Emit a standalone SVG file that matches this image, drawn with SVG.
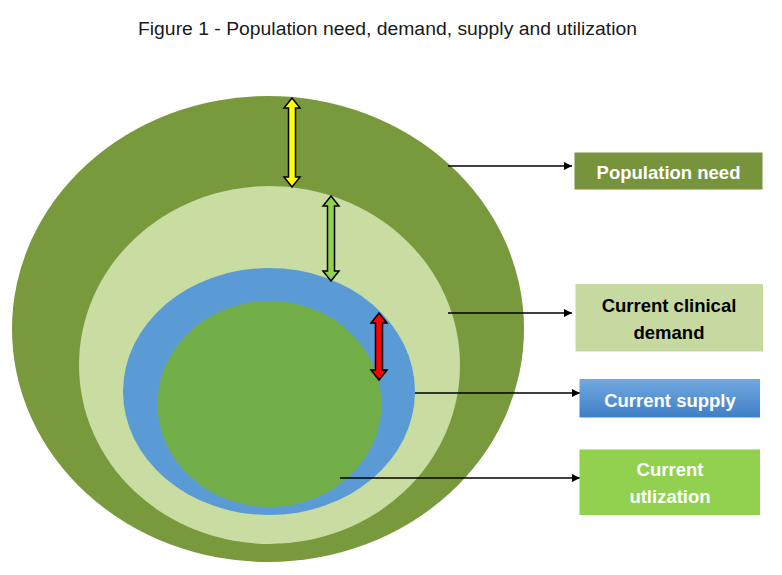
<svg xmlns="http://www.w3.org/2000/svg" width="782" height="575" viewBox="0 0 782 575">
  <defs>
    <style>
      .title { font-family: "Liberation Sans", Arial, sans-serif; font-size: 18px; fill: #1a1a1a; }
      .lbl { font-family: "Liberation Sans", Arial, sans-serif; font-size: 18.5px; font-weight: bold; text-anchor: middle; }
      .w { fill: #ffffff; }
      .k { fill: #000000; }
      .conn { stroke: #000000; stroke-width: 1.3; fill: none; }
      .dbl { stroke: #000000; stroke-width: 1.5; stroke-linejoin: miter; }
    </style>
    <marker id="ah" viewBox="0 0 10 10" refX="10" refY="5" markerWidth="8" markerHeight="8" markerUnits="userSpaceOnUse" orient="auto">
      <path d="M0,0 L10,5 L0,10 z" fill="#000000"/>
    </marker>
    <linearGradient id="blueGrad" x1="0" y1="0" x2="0" y2="1">
      <stop offset="0" stop-color="#72a9e0"/>
      <stop offset="1" stop-color="#3f7ec6"/>
    </linearGradient>
  </defs>
  <rect width="782" height="575" fill="#ffffff"/>
  <text class="title" x="138" y="35" textLength="499" lengthAdjust="spacingAndGlyphs">Figure 1 - Population need, demand, supply and utilization</text>

  <g id="ellipses">
    <ellipse id="need-ellipse" cx="268" cy="329" rx="256" ry="233" fill="#789a3d"/>
    <ellipse id="demand-ellipse" cx="269.5" cy="365" rx="190.5" ry="179" fill="#c9dca1"/>
    <ellipse id="supply-ellipse" cx="269" cy="391.5" rx="146" ry="123.5" fill="#5b9bd5"/>
    <ellipse id="utilization-ellipse" cx="269.5" cy="404" rx="112" ry="103" fill="#72ae48"/>
  </g>

  <g id="gap-arrows">
    <polygon class="dbl" fill="#ffff00" points="292,98 300,108 295.5,108 295.5,177 300,177 292,187 284,177 288.5,177 288.5,108 284,108"/>
    <polygon class="dbl" fill="#92d050" points="331,196 339,206 334.5,206 334.5,271 339,271 331,281 323,271 327.5,271 327.5,206 323,206"/>
    <polygon class="dbl" fill="#ff0000" points="379,313 387,323 382.5,323 382.5,370 387,370 379,380 371,370 375.5,370 375.5,323 371,323"/>
  </g>

  <g id="connectors">
    <line class="conn" x1="448" y1="166" x2="572" y2="166" marker-end="url(#ah)"/>
    <line class="conn" x1="448" y1="313" x2="572" y2="313" marker-end="url(#ah)"/>
    <line class="conn" x1="415" y1="393" x2="580" y2="393" marker-end="url(#ah)"/>
    <line class="conn" x1="340" y1="478" x2="580" y2="478" marker-end="url(#ah)"/>
  </g>

  <g id="node-population-need">
    <rect x="574.5" y="152.5" width="188" height="37" fill="#77933c"/>
    <text class="lbl w" x="668.5" y="178.5">Population need</text>
  </g>
  <g id="node-current-clinical-demand">
    <rect x="575.5" y="284" width="187.5" height="67.5" fill="#c6d9a0"/>
    <text class="lbl k" x="669" y="311.5">Current clinical</text>
    <text class="lbl k" x="669" y="338.5">demand</text>
  </g>
  <g id="node-current-supply">
    <rect x="579.5" y="379" width="180.5" height="38.5" fill="url(#blueGrad)"/>
    <text class="lbl w" x="670" y="406.5">Current supply</text>
  </g>
  <g id="node-current-utilization">
    <rect x="579.5" y="449.5" width="180.5" height="65.5" fill="#92d050"/>
    <text class="lbl w" x="670" y="476">Current</text>
    <text class="lbl w" x="670" y="503">utlization</text>
  </g>
</svg>
